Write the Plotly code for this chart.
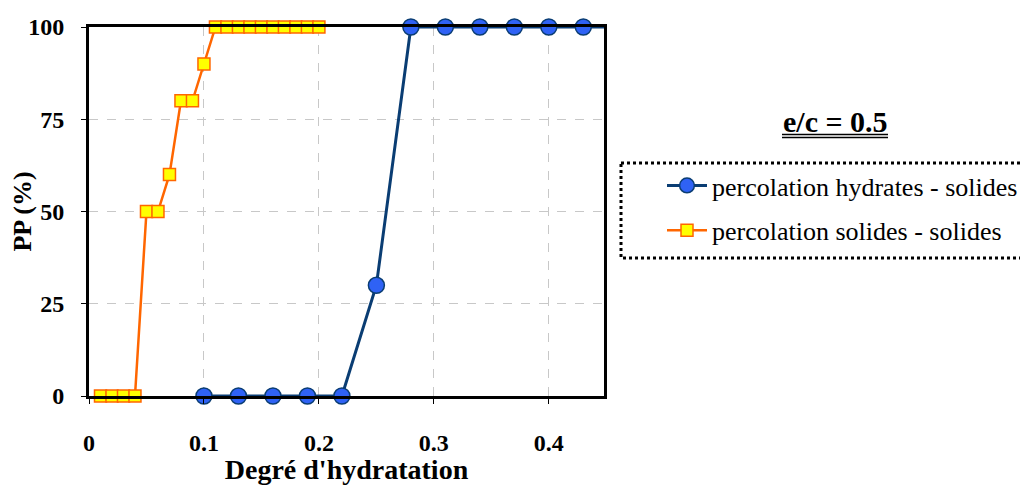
import plotly.graph_objects as go

# Data
hyd_x = [0.10, 0.13, 0.16, 0.19, 0.22, 0.25, 0.28, 0.31, 0.34, 0.37, 0.40, 0.43, 0.46]
hyd_y = [0, 0, 0, 0, 0, 30, 100, 100, 100, 100, 100, 100, 100]
sol_x = [0.01, 0.02, 0.03, 0.04, 0.05, 0.06, 0.07, 0.08, 0.09, 0.10,
         0.11, 0.12, 0.13, 0.14, 0.15, 0.16, 0.17, 0.18, 0.19, 0.20]
sol_y = [0, 0, 0, 0, 50, 50, 60, 80, 80, 90,
         100, 100, 100, 100, 100, 100, 100, 100, 100, 100]
x_ticks = [0, 0.1, 0.2, 0.3, 0.4]
x_tick_labels = ["0", "0.1", "0.2", "0.3", "0.4"]
y_ticks = [0, 25, 50, 75, 100]

SERIF = "Liberation Serif, Times New Roman, serif"

# plot area in window pixels: left 89, right 604, top 27, bottom 396
def px_x(p):
    return (p - 89) / 515.0

def px_y(p):
    return (396 - p) / 369.0

fig = go.Figure()
fig.add_trace(go.Scatter(
    x=hyd_x, y=hyd_y, mode="lines+markers",
    name="percolation hydrates - solides", legendgroup="a",
    line=dict(color="#0A3D73", width=3),
    marker=dict(symbol="circle", size=[16] * (len(hyd_x) - 1) + [0],
                color="#2F62F5", opacity=1, line=dict(color="#0A3D73", width=1.5)),
    cliponaxis=False,
))
fig.add_trace(go.Scatter(
    x=sol_x, y=sol_y, mode="lines+markers",
    name="percolation solides - solides", legendgroup="b",
    line=dict(color="#FF6600", width=2.5),
    marker=dict(symbol="square", size=12, color="#FFFF00", opacity=1,
                line=dict(color="#FF6600", width=1.5)),
    cliponaxis=False,
))

fig.update_layout(
    width=1020, height=477,
    margin=dict(l=81, r=424, t=19, b=89, autoexpand=False),
    paper_bgcolor="white", plot_bgcolor="white",
    font=dict(family=SERIF, color="black"),
    xaxis=dict(
        range=[0, 0.448], tickvals=x_ticks, ticktext=x_tick_labels,
        showgrid=True, gridcolor="#C8C8C8", griddash="dash", gridwidth=1,
        showline=True, linecolor="black", linewidth=3, mirror=True,
        ticks="outside", ticklen=5, tickcolor="black", tickwidth=1,
        tickfont=dict(size=24, family=SERIF, weight="bold"),
        ticklabelstandoff=18,
        title=dict(text="Degré d'hydratation", font=dict(size=28, family=SERIF, weight="bold"), standoff=4),
        zeroline=False,
    ),
    yaxis=dict(
        range=[0, 100], tickvals=y_ticks,
        showgrid=True, gridcolor="#C8C8C8", griddash="dash", gridwidth=1,
        showline=True, linecolor="black", linewidth=3, mirror=True,
        ticks="outside", ticklen=5, tickcolor="black", tickwidth=1,
        tickfont=dict(size=24, family=SERIF, weight="bold"),
        ticklabelstandoff=12,
        title=dict(text="PP (%)", font=dict(size=26, family=SERIF, weight="bold"), standoff=8),
        zeroline=False,
    ),
    legend=dict(
        x=px_x(662), y=px_y(162), xref="paper", yref="paper",
        xanchor="left", yanchor="top",
        font=dict(size=26, family=SERIF),
        bgcolor="rgba(0,0,0,0)", borderwidth=0,
        tracegroupgap=8, itemwidth=40,
    ),
    showlegend=True,
)

fig.add_annotation(
    x=px_x(835), y=px_y(122), xref="paper", yref="paper",
    text="e/c = 0.5", showarrow=False,
    font=dict(size=30, family=SERIF, color="black", weight="bold"),
    xanchor="center", yanchor="middle",
)
# double underline of the e/c label
for uy in (134.5, 137.5):
    fig.add_shape(
        type="line", xref="paper", yref="paper",
        x0=px_x(782), x1=px_x(888), y0=px_y(uy), y1=px_y(uy),
        line=dict(color="black", width=1.5),
    )
fig.add_shape(
    type="rect", xref="paper", yref="paper",
    x0=px_x(621), x1=px_x(1026), y0=px_y(163), y1=px_y(258),
    line=dict(color="black", width=3, dash="dot"),
)

fig.write_html("out.html")
